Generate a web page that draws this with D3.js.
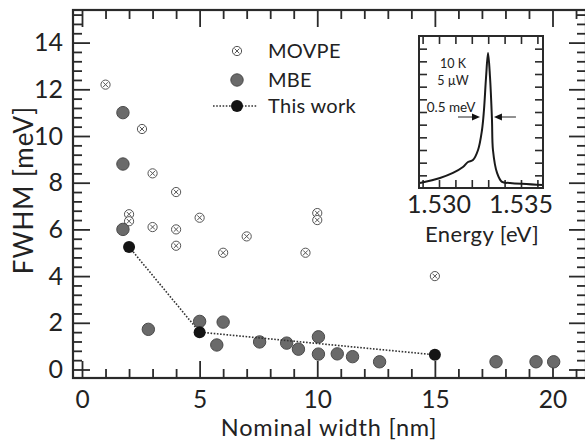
<!DOCTYPE html>
<html><head><meta charset="utf-8">
<script src="https://cdn.jsdelivr.net/npm/d3@7"></script>
<style>
body{margin:0;background:#fff}
svg{display:block}
text{font-family:Lato,"Open Sans",sans-serif;fill:#222}
</style>
</head><body>
<svg id="c" width="585" height="440"></svg>
<script>
// ---- data ----
const movpeWidth = [1.0, 2.55, 3.0, 4.0, 2.0, 2.0, 3.0, 4.0, 4.0, 5.0, 6.0, 7.0, 9.5, 10.0, 10.0, 15.0];
const movpeFwhm  = [12.2, 10.3, 8.4, 7.6, 6.65, 6.35, 6.1, 6.0, 5.3, 6.5, 5.0, 5.7, 5.0, 6.7, 6.4, 4.0];
const mbeWidth = [1.74, 1.74, 1.74, 2.82, 5.0, 6.0, 5.73, 7.55, 8.7, 9.2, 10.05, 10.05, 10.85, 11.5, 12.65, 17.6, 19.3, 20.05];
const mbeFwhm  = [11.0, 8.8, 6.0, 1.72, 2.06, 2.03, 1.05, 1.18, 1.13, 0.87, 1.4, 0.66, 0.67, 0.55, 0.33, 0.33, 0.33, 0.33];
const thisWidth = [2.0, 5.0, 15.0];
const thisFwhm  = [5.25, 1.6, 0.63];
const xTicks = [0, 5, 10, 15, 20];
const yTicks = [0, 2, 4, 6, 8, 10, 12, 14];
const legendLabels = ["MOVPE", "MBE", "This work"];
// inset spectrum
const insetEnergy = [1.52884, 1.53006, 1.53085, 1.53146, 1.53177, 1.53207, 1.53238, 1.53262, 1.53274, 1.53287, 1.53299, 1.53311, 1.53323, 1.53329, 1.53354, 1.53384, 1.53433, 1.53634];
const insetIntensity = [0.033, 0.066, 0.099, 0.138, 0.171, 0.184, 0.25, 0.38, 0.51, 0.73, 0.888, 0.73, 0.45, 0.25, 0.099, 0.04, 0.033, 0.02];
const insetTicks = ["1.530", "1.535"];
const insetNotes = ["10 K", "5 µW", "0.5 meV"];
const fwhmMarks = [1.53250, 1.53335];

// ---- layout ----
const svg = d3.select("#c");
const L = 73, R = 586, T = 10, B = 378;
const x = d3.scaleLinear().domain([0, 20]).range([82, 552.5]);
const y = d3.scaleLinear().domain([0, 14]).range([369.5, 42.6]);
const ink = "#2a2a2a";

const xMinor = d3.range(0, 22).filter(v => v % 5 !== 0);
const yMinor = d3.range(0, 39).map(i => +(i * 0.4).toFixed(1)).filter(v => Math.abs(v / 2 - Math.round(v / 2)) > 1e-6 && y(v) > T + 2);

function styleAxis(g) {
  g.select(".domain").remove();
  g.selectAll(".tick line").attr("stroke", ink).attr("stroke-width", 1.8);
}

// bottom
svg.append("g").attr("transform", `translate(0,${B})`)
  .call(d3.axisBottom(x).tickValues(xTicks).tickSizeInner(-17).tickSizeOuter(0).tickFormat(d3.format("d")))
  .call(styleAxis)
  .call(g => g.selectAll("text").attr("y", 30).attr("dy", null).attr("font-size", 24.5).attr("fill", "#222").attr("font-family", "Lato"));
svg.append("g").attr("transform", `translate(0,${B})`)
  .call(d3.axisBottom(x).tickValues(xMinor).tickSizeInner(-9).tickSizeOuter(0).tickFormat(""))
  .call(styleAxis);
// top
svg.append("g").attr("transform", `translate(0,${T})`)
  .call(d3.axisTop(x).tickValues(xTicks).tickSizeInner(-17).tickSizeOuter(0).tickFormat(""))
  .call(styleAxis);
svg.append("g").attr("transform", `translate(0,${T})`)
  .call(d3.axisTop(x).tickValues(xMinor).tickSizeInner(-9).tickSizeOuter(0).tickFormat(""))
  .call(styleAxis);
// left
svg.append("g").attr("transform", `translate(${L},0)`)
  .call(d3.axisLeft(y).tickValues(yTicks).tickSizeInner(-17).tickSizeOuter(0).tickPadding(10).tickFormat(d3.format("d")))
  .call(styleAxis)
  .call(g => g.selectAll("text").attr("x", -10).attr("font-size", 25).attr("fill", "#222").attr("font-family", "Lato"));
svg.append("g").attr("transform", `translate(${L},0)`)
  .call(d3.axisLeft(y).tickValues(yMinor).tickSizeInner(-9).tickSizeOuter(0).tickFormat(""))
  .call(styleAxis);
// right
svg.append("g").attr("transform", `translate(${R},0)`)
  .call(d3.axisRight(y).tickValues(yTicks).tickSizeInner(-17).tickSizeOuter(0).tickFormat(""))
  .call(styleAxis);
svg.append("g").attr("transform", `translate(${R},0)`)
  .call(d3.axisRight(y).tickValues(yMinor).tickSizeInner(-9).tickSizeOuter(0).tickFormat(""))
  .call(styleAxis);

// frame
svg.append("rect").attr("x", L).attr("y", T).attr("width", R - L).attr("height", B - T)
  .attr("fill", "none").attr("stroke", ink).attr("stroke-width", 2.2);

// axis titles
svg.append("text").attr("x", 329).attr("y", 436).attr("text-anchor", "middle")
  .attr("font-size", 23.5).attr("letter-spacing", 0.8).text("Nominal width [nm]");
svg.append("text").attr("transform", "translate(33,190) rotate(-90)").attr("text-anchor", "middle")
  .attr("font-size", 26).attr("letter-spacing", 1).text("FWHM [meV]");

// markers
function crossCircle(sel) {
  sel.append("circle").attr("r", 4.6).attr("fill", "#fff").attr("stroke", "#555").attr("stroke-width", 1);
  sel.append("path").attr("d", "M-2.4,-2.4L2.4,2.4M-2.4,2.4L2.4,-2.4").attr("stroke", "#555").attr("stroke-width", 1);
}
const movpe = movpeWidth.map((w, i) => [w, movpeFwhm[i]]);
const mbe = mbeWidth.map((w, i) => [w, mbeFwhm[i]]);
const mine = thisWidth.map((w, i) => [w, thisFwhm[i]]);

svg.append("g").selectAll("g").data(movpe).join("g")
  .attr("transform", d => `translate(${x(d[0])},${y(d[1])})`).call(crossCircle);
svg.append("g").selectAll("circle").data(mbe).join("circle")
  .attr("cx", d => x(d[0])).attr("cy", d => y(d[1])).attr("r", 6.2)
  .attr("fill", "#6a6a6a").attr("stroke", "#4a4a4a").attr("stroke-width", 1);
svg.append("path").datum(mine)
  .attr("d", d3.line().x(d => x(d[0])).y(d => y(d[1])))
  .attr("fill", "none").attr("stroke", "#333").attr("stroke-width", 1.6).attr("stroke-dasharray", "1.6,1.6");
svg.append("g").selectAll("circle").data(mine).join("circle")
  .attr("cx", d => x(d[0])).attr("cy", d => y(d[1])).attr("r", 6)
  .attr("fill", "#141414");

// legend
const lg = svg.append("g");
const lx = 237, ly = [51, 80, 106];
lg.append("g").attr("transform", `translate(${lx},${ly[0]})`).call(crossCircle);
lg.append("circle").attr("cx", lx).attr("cy", ly[1]).attr("r", 6.2).attr("fill", "#6a6a6a").attr("stroke", "#4a4a4a");
lg.append("line").attr("x1", lx - 24).attr("x2", lx + 20).attr("y1", ly[2]).attr("y2", ly[2])
  .attr("stroke", "#333").attr("stroke-width", 1.6).attr("stroke-dasharray", "1.6,1.6");
lg.append("circle").attr("cx", lx).attr("cy", ly[2]).attr("r", 6).attr("fill", "#141414");
legendLabels.forEach((t, i) => {
  lg.append("text").attr("x", 268).attr("y", ly[i]).attr("dy", "0.36em").attr("font-size", 20).attr("letter-spacing", 0.3).text(t);
});

// ---- inset ----
const iL = 419, iR = 543, iT = 36, iB = 188;
const xe = d3.scaleLinear().domain([1.530, 1.535]).range([439, 521]);
const ye = d3.scaleLinear().domain([0, 1]).range([iB, iT]);
svg.append("rect").attr("x", iL).attr("y", iT).attr("width", iR - iL).attr("height", iB - iT).attr("fill", "#fff");
const eTicks = d3.range(1.529, 1.5365, 0.001).filter(v => xe(v) > iL + 1 && xe(v) < iR - 1);
const iTicks = d3.range(1, 12).map(i => i / 12);
function inAxis(g) { g.select(".domain").remove(); g.selectAll(".tick line").attr("stroke", ink).attr("stroke-width", 1.6); }
svg.append("g").attr("transform", `translate(0,${iB})`)
  .call(d3.axisBottom(xe).tickValues(eTicks).tickSizeInner(-8).tickSizeOuter(0).tickFormat("")).call(inAxis);
svg.append("g").attr("transform", `translate(0,${iT})`)
  .call(d3.axisTop(xe).tickValues(eTicks).tickSizeInner(-8).tickSizeOuter(0).tickFormat("")).call(inAxis);
svg.append("g").attr("transform", `translate(${iL},0)`)
  .call(d3.axisLeft(ye).tickValues(iTicks).tickSizeInner(-8).tickSizeOuter(0).tickFormat("")).call(inAxis);
svg.append("g").attr("transform", `translate(${iR},0)`)
  .call(d3.axisRight(ye).tickValues(iTicks).tickSizeInner(-8).tickSizeOuter(0).tickFormat("")).call(inAxis);

const spec = insetEnergy.map((e, i) => [e, insetIntensity[i]]);
svg.append("path").datum(spec)
  .attr("d", d3.line().x(d => xe(d[0])).y(d => ye(d[1])).curve(d3.curveCatmullRom.alpha(0.5)))
  .attr("fill", "none").attr("stroke", "#1a1a1a").attr("stroke-width", 2);
svg.append("rect").attr("x", iL).attr("y", iT).attr("width", iR - iL).attr("height", iB - iT)
  .attr("fill", "none").attr("stroke", ink).attr("stroke-width", 2);

insetTicks.forEach(t => {
  svg.append("text").attr("x", xe(+t)).attr("y", 213).attr("text-anchor", "middle").attr("font-size", 25).text(t);
});
svg.append("text").attr("x", 482).attr("y", 242).attr("text-anchor", "middle").attr("font-size", 22).attr("letter-spacing", 0.4).text("Energy [eV]");

svg.append("text").attr("x", 453).attr("y", 68).attr("text-anchor", "middle").attr("font-size", 12.5).text(insetNotes[0]);
svg.append("text").attr("x", 453).attr("y", 85).attr("text-anchor", "middle").attr("font-size", 12.5).text(insetNotes[1]);
svg.append("text").attr("x", 451).attr("y", 112).attr("text-anchor", "middle").attr("font-size", 13.5).text(insetNotes[2]);
// arrows
const ay = 117;
const a1 = xe(fwhmMarks[0]), a2 = xe(fwhmMarks[1]);
svg.append("line").attr("x1", a1 - 22).attr("x2", a1 - 6).attr("y1", ay).attr("y2", ay).attr("stroke", "#222").attr("stroke-width", 1);
svg.append("path").attr("d", `M${a1},${ay}L${a1 - 8},${ay - 3.5}L${a1 - 8},${ay + 3.5}Z`).attr("fill", "#111");
svg.append("line").attr("x1", a2 + 6).attr("x2", a2 + 22).attr("y1", ay).attr("y2", ay).attr("stroke", "#222").attr("stroke-width", 1);
svg.append("path").attr("d", `M${a2},${ay}L${a2 + 8},${ay - 3.5}L${a2 + 8},${ay + 3.5}Z`).attr("fill", "#111");
</script>
</body></html>
